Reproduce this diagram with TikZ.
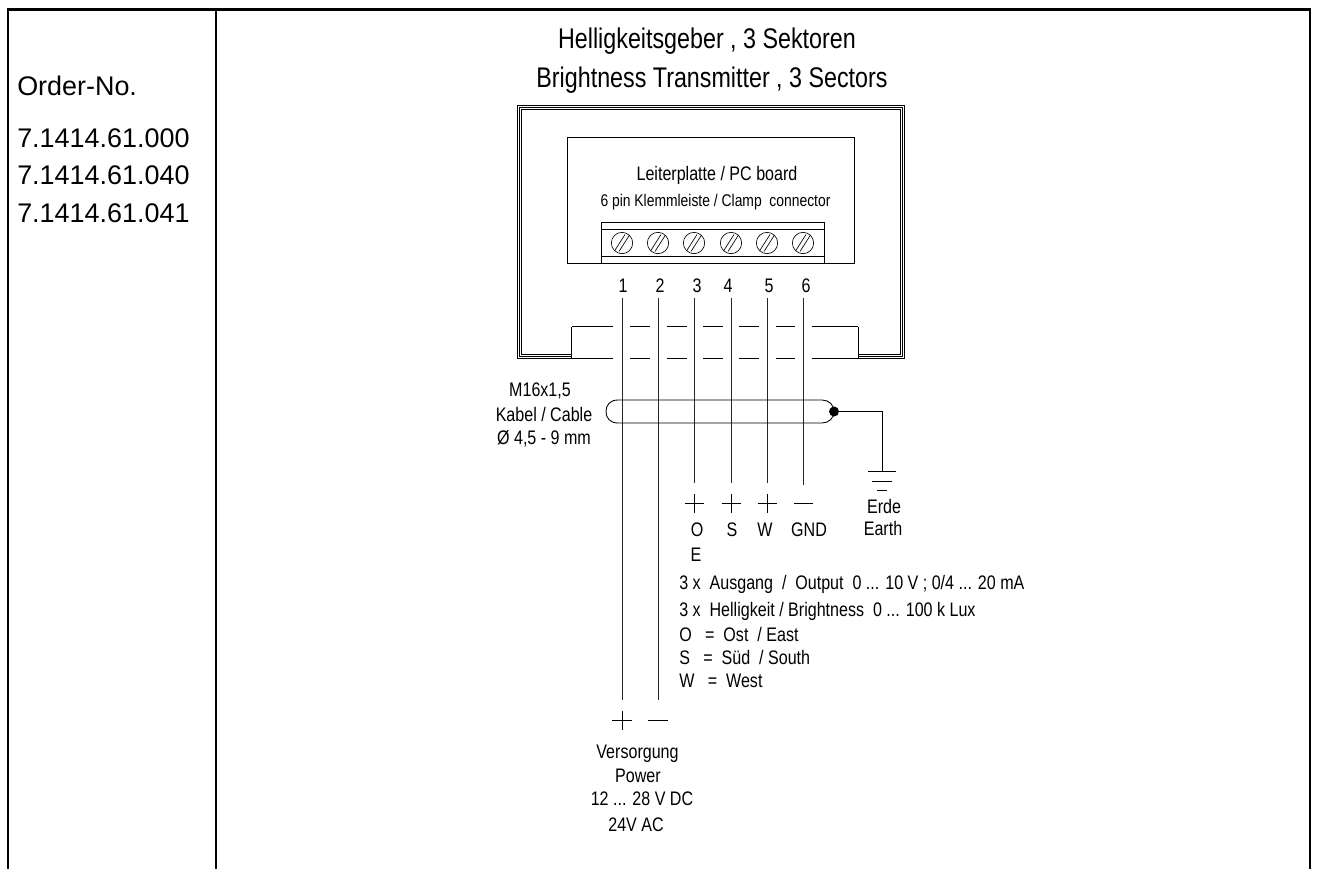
\documentclass[tikz,border=0pt]{standalone}
\usepackage{fontspec}
\setmainfont{Liberation Sans}
\newfontfamily\narrowf[FakeStretch=0.82]{Liberation Sans}
\tikzset{x=0.75pt,y=-0.75pt,
 frameln/.style={line width=2pt,black},
 thinln/.style={line width=0.65pt,black},
 wire/.style={line width=0.65pt,black!85},
 big/.style={font=\fontsize{20.2}{22}\selectfont,anchor=base west,inner sep=0pt},
 titletxt/.style={font=\narrowf\fontsize{21.3}{24}\selectfont,anchor=base,inner sep=0pt},
 small/.style={font=\narrowf\fontsize{14.7}{17}\selectfont,anchor=base,inner sep=0pt},
 smallw/.style={small,anchor=base west},
 screw/.style={circle,draw,line width=0.5pt,minimum size=16pt,inner sep=0pt}
}
\begin{document}
\begin{tikzpicture}
\useasboundingbox (0,0) rectangle (1317,868);
\fill[white] (0,0) rectangle (1317,868);
\draw[frameln] (8,875) -- (8,9.5) -- (1310,9.5) -- (1310,875);
\draw[frameln] (216,9.5) -- (216,875);
\node[big] (ord) at (17,95) {Order-No.};
\node[big] (n1) at (17,147) {7.1414.61.000};
\node[big] (n2) at (17,184) {7.1414.61.040};
\node[big] (n3) at (17,222) {7.1414.61.041};
\node[titletxt] (t1) at (707,48) {Helligkeitsgeber , 3 Sektoren};
\node[titletxt] (t2) at (712,87) {Brightness Transmitter , 3 Sectors};
% housing
\foreach \d in {0,2,4}{
 \draw[thinln] (572,358-\d) -| (517.5+\d,105+\d) -| (904-\d,358-\d) -- (858,358-\d);
}
% board
\draw[thinln] (567,137) rectangle (854,263);
\draw[thinln] (601,222) rectangle (824,263);
\draw[thinln] (601,229) -- (824,229) (601,256) -- (824,256);
\node[small] (lp) at (717,180) {Leiterplatte / PC board};
\node[small,font=\narrowf\fontsize{12.7}{15}\selectfont] (kl) at (715.5,206) {6 pin Klemmleiste / Clamp\ \ connector};
\foreach \x/\n in {622/a,658/b,694/c,731/d,767/e,803/f}{
 \node[screw] (s\n) at (\x,243) {};
 \draw[line width=0.5pt] (\x-7.5,251) -- (\x+3,234.5) (\x-3,251.5) -- (\x+7.5,235);
}
\foreach \x/\n in {623/1,660/2,697/3,728/4,769/5,806/6}{
 \node[small] (pin\n) at (\x,292) {\n};
}
% wires
\foreach \x/\y/\n in {622/700/1,658/700/2,694/483/3,731/483/4,767/483/5,803/485/6}{
 \coordinate (wt\n) at (\x,298);
 \coordinate (wb\n) at (\x,\y);
 \draw[wire] (wt\n) -- (wb\n);
}
% gland
\foreach \y in {326.7,358}{
\draw[thinln] (572,\y) -- (613,\y) (630,\y) -- (650,\y) (667,\y) -- (687,\y) (703,\y) -- (723,\y) (739,\y) -- (759,\y) (776,\y) -- (795,\y) (812,\y) -- (858,\y);
}
\draw[thinln] (571.7,326.7) -- (571.7,358) (858,326.7) -- (858,358);
\node[small] (m16) at (540,396) {M16x1,5};
\node[small] (kab) at (544,421) {Kabel / Cable};
\node[small] (dia) at (544,444) {Ø 4,5 - 9 mm};
% cable
\draw[thinln] (618,400) -- (822,400) .. controls (829,400) and (834,405) .. (834,411.5) .. controls (834,418) and (829,423) .. (822,423) -- (618,423) .. controls (610,423) and (606,418) .. (606,411.5) .. controls (606,405) and (610,400) .. (618,400);
\node[circle,fill=black,inner sep=0pt,minimum size=7.5pt] (dot) at (834,411.5) {};
\coordinate (gnd) at (882,471);
\draw[thinln] (dot.center) -| (gnd);
\draw[thinln] (868,471) -- (896,471) (872,481) -- (892,481) (877,490) -- (887,490);
\node[small] (erde) at (884,513) {Erde};
\node[small] (earth) at (883,535) {Earth};
% signs
\foreach \x in {694,731,767}{\draw[thinln] (\x-9.5,503) -- (\x+9.5,503) (\x,494) -- (\x,513);}
\draw[thinln] (794,503) -- (813,503);
\node[small] (o) at (697,536) {O};
\node[small] (s) at (732,536) {S};
\node[small] (w) at (765,536) {W};
\node[small] (g) at (809,536) {GND};
\node[small] (e) at (696,561) {E};
\node[smallw] (l1) at (679,589) {3 x\ \ Ausgang\ \ /\ \ Output\ \ 0 ... 10 V ; 0/4 ... 20 mA};
\node[smallw] (l2) at (679,616) {3 x\ \ Helligkeit / Brightness\ \ 0 ... 100 k Lux};
\node[smallw] (l3) at (679,641) {O\ \ \ =\ \ Ost\ \ / East};
\node[smallw] (l4) at (679,664) {S\ \ \ =\ \ Süd\ \ / South};
\node[smallw] (l5) at (679,687) {W\ \ \ =\ \ West};
\draw[thinln] (612,720) -- (632,720) (622,711) -- (622,730);
\draw[thinln] (648,720) -- (668,720);
\node[small] (v1) at (637.5,758) {Versorgung};
\node[small] (v2) at (638,782) {Power};
\node[small] (v3) at (642,805) {12 ... 28 V DC};
\node[small] (v4) at (636,831) {24V AC};
\end{tikzpicture}
\end{document}
